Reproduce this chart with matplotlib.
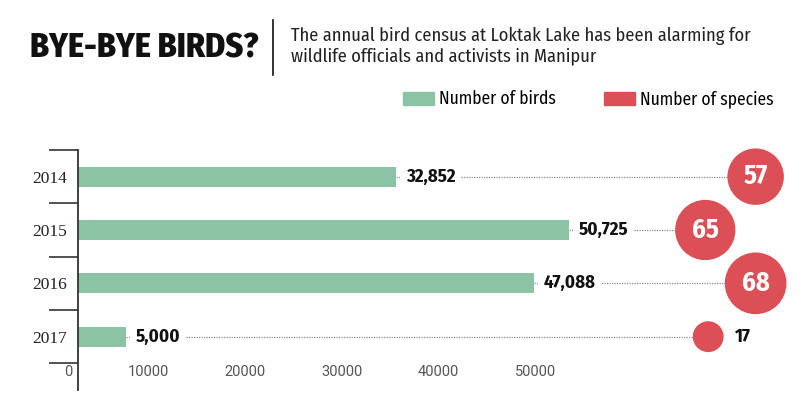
import matplotlib
matplotlib.use('Agg')
import matplotlib.pyplot as plt
import matplotlib.transforms as mtransforms
from matplotlib.patches import Patch
from matplotlib.lines import Line2D

# data
years = ['2014', '2015', '2016', '2017']
birds = [32852, 50725, 47088, 5000]
species = [57, 65, 68, 17]
xticks = [0, 10000, 20000, 30000, 40000, 50000]

# layout: where each bubble sits along the x axis
bubble_x = [70000, 64800, 70000, 65100]

GREEN = '#8dc3a5'
RED = '#dc4f56'
COND = ['Fira Sans Condensed', 'DejaVu Sans']

fig = plt.figure(figsize=(8, 4.2), dpi=100)
ax = fig.add_axes([78 / 800, 30 / 420, 712 / 800, 240 / 420])

y = list(range(len(years)))
ax.barh(y, birds, height=0.38, color=GREEN, zorder=2)
ax.set_xlim(0, 73550)
ax.set_ylim(4.0, -0.5)

# dotted leader lines, value labels, bubbles
for i, (b, s, bx) in enumerate(zip(birds, species, bubble_x)):
    ax.plot([b, bx], [i, i], color='#8a8a8a', lw=0.9, ls=(0, (1, 1)), zorder=1)
    ax.annotate(f'{b:,}', (b, i), xytext=(7, 0), textcoords='offset points',
                ha='left', va='center', fontsize=13.5, fontweight='bold',
                family=COND, color='#111111', zorder=3,
                bbox=dict(boxstyle='square,pad=0.3', fc='white', ec='none'))
ax.scatter(bubble_x, y, s=[29 * v for v in species], color=RED, zorder=4,
           linewidths=0, clip_on=False)
for i, (s, bx) in enumerate(zip(species, bubble_x)):
    if s >= 30:
        ax.text(bx, i, str(s), ha='center', va='center', fontsize=19,
                fontweight='bold', family=COND, color='white', zorder=5)
    else:
        ax.annotate(str(s), (bx, i), xytext=(19, 0), textcoords='offset points',
                    ha='left', va='center', fontsize=13.5, fontweight='bold',
                    family=COND, color='#111111', zorder=5)

# axes styling
for side in ['top', 'right', 'bottom']:
    ax.spines[side].set_visible(False)
ax.spines['left'].set_color('#333333')
ax.spines['left'].set_linewidth(1.3)

ax.set_yticks([-0.5, 0.5, 1.5, 2.5, 3.5])
ax.set_yticklabels([])
ax.tick_params(axis='y', which='major', length=21, width=1.2, color='#333333')
ax.set_yticks(y, minor=True)
ax.set_yticklabels(years, minor=True, fontsize=12.5,
                   family=['Liberation Serif', 'DejaVu Serif'], color='#222222')
ax.tick_params(axis='y', which='minor', length=0, pad=8)

ax.set_xticks(xticks)
ax.set_xticklabels([str(t) for t in xticks])
ax.tick_params(axis='x', length=0, pad=-18, labelsize=10.5, labelcolor='#555555')
shift = mtransforms.ScaledTranslation(-6 / 100, 0, fig.dpi_scale_trans)
for lab in ax.get_xticklabels():
    lab.set_ha('right')
    lab.set_family(['Roboto', 'DejaVu Sans'])
    lab.set_transform(lab.get_transform() + shift)

# header
fig.text(30 / 800, 1 - 48 / 420, 'BYE-BYE BIRDS?', ha='left', va='center',
         fontsize=24.5, fontweight='heavy', family=COND, color='#111111')
fig.add_artist(Line2D([273 / 800, 273 / 800], [1 - 20 / 420, 1 - 75 / 420],
                      color='#111111', lw=1.2))
fig.text(291 / 800, 1 - 46 / 420,
         'The annual bird census at Loktak Lake has been alarming for\n'
         'wildlife officials and activists in Manipur',
         ha='left', va='center', fontsize=13.3, family=COND, color='#222222',
         linespacing=1.15)

handles = [Patch(color=GREEN, label='Number of birds'),
           Patch(color=RED, label='Number of species')]
fig.legend(handles=handles, loc='center left', bbox_to_anchor=(403 / 800, 1 - 99 / 420),
           ncol=2, frameon=False, prop={'family': COND, 'size': 12.6},
           handlelength=1.75, handleheight=0.75, handletextpad=0.3,
           columnspacing=2.75, borderaxespad=0, borderpad=0)

fig.savefig('out.png', dpi=100, facecolor='white')
